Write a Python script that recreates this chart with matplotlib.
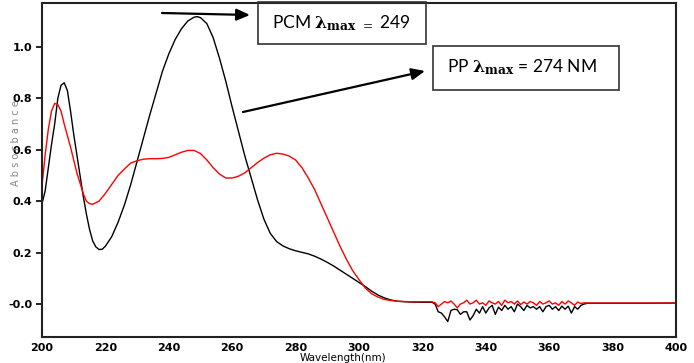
import numpy as np
import matplotlib
matplotlib.use('Agg')
import matplotlib.pyplot as plt
from matplotlib.patches import Rectangle

plt.rcParams['mathtext.fontset'] = 'dejavuserif'

# PCM (black) spectrum, smooth part
pcm_wl = [200, 201, 202, 203, 204, 205, 206, 207, 208, 209, 210, 211, 212, 213, 214, 215,
          216, 217, 218, 219, 220, 222, 224, 226, 228, 230, 232, 234, 236, 238, 240, 242,
          244, 246, 248, 249, 250, 252, 254, 256, 258, 260, 262, 264, 266, 268, 270, 272,
          274, 276, 278, 280, 282, 284, 286, 288, 290, 292, 294, 296, 298, 300, 302, 304,
          306, 308, 310, 312, 316, 320, 323]
pcm_abs = [0.39, 0.44, 0.53, 0.62, 0.70, 0.80, 0.85, 0.86, 0.83, 0.75, 0.66, 0.58, 0.50, 0.42,
           0.35, 0.29, 0.245, 0.222, 0.212, 0.213, 0.225, 0.262, 0.318, 0.385, 0.465, 0.555,
           0.645, 0.735, 0.82, 0.905, 0.972, 1.028, 1.07, 1.10, 1.115, 1.117, 1.113, 1.09,
           1.035, 0.955, 0.865, 0.765, 0.67, 0.575, 0.49, 0.405, 0.33, 0.275, 0.243, 0.226,
           0.215, 0.207, 0.201, 0.195, 0.186, 0.175, 0.162, 0.148, 0.132, 0.116, 0.1, 0.084,
           0.068, 0.05, 0.035, 0.024, 0.016, 0.011, 0.008, 0.007, 0.007]

# PP (red) spectrum, smooth part
pp_wl = [200, 201, 202, 203, 204, 205, 206, 207, 208, 209, 210, 211, 212, 213, 214, 215, 216,
         218, 220, 222, 224, 226, 228, 230, 232, 234, 236, 238, 240, 242, 244, 246, 248, 250,
         252, 254, 256, 258, 260, 262, 264, 266, 268, 270, 272, 274, 276, 278, 280, 282, 284,
         286, 288, 290, 292, 294, 296, 298, 300, 302, 304, 306, 308, 310, 312, 316, 320, 323]
pp_abs = [0.46, 0.58, 0.68, 0.75, 0.78, 0.775, 0.75, 0.70, 0.655, 0.61, 0.56, 0.51, 0.47,
          0.43, 0.40, 0.39, 0.388, 0.40, 0.43, 0.465, 0.50, 0.525, 0.548, 0.557, 0.563,
          0.565, 0.565, 0.566, 0.57, 0.58, 0.59, 0.597, 0.597, 0.585, 0.56, 0.53, 0.505,
          0.49, 0.49, 0.497, 0.51, 0.53, 0.55, 0.567, 0.58, 0.586, 0.583, 0.575, 0.56, 0.53,
          0.49, 0.445, 0.39, 0.335, 0.28, 0.225, 0.175, 0.13, 0.095, 0.062, 0.04, 0.027,
          0.018, 0.014, 0.011, 0.009, 0.009, 0.009]

# noisy stretch 324-371 nm, one reading per nm
noise_wl = np.arange(324, 372)
pcm_noise = [0.0, -0.03, -0.035, -0.05, -0.068, -0.025, -0.02, -0.022, -0.04, -0.03, -0.03,
             -0.062, -0.045, -0.02, -0.035, -0.01, -0.035, -0.015, -0.005, -0.04, -0.012,
             -0.025, -0.005, -0.02, -0.01, -0.03, 0.0, -0.01, -0.025, -0.005, -0.015, -0.01,
             -0.02, -0.01, -0.03, -0.01, -0.005, -0.02, -0.01, -0.025, -0.008, -0.02, -0.008,
             -0.035, -0.01, -0.02, -0.005, 0.0]
pp_noise = [0.005, -0.01, 0.0, 0.01, 0.005, 0.012, 0.0, -0.015, 0.0, 0.005, 0.015, 0.0,
            0.005, 0.015, 0.0, 0.005, -0.005, 0.012, 0.005, 0.0, 0.01, -0.005, 0.015, 0.005,
            0.01, 0.0, 0.012, -0.002, 0.008, 0.0, 0.01, 0.005, -0.005, 0.01, 0.0, 0.005,
            0.012, 0.0, 0.005, -0.005, 0.01, 0.0, 0.012, 0.005, -0.005, 0.008, 0.002, 0.005]

# flat tail
tail_wl = [372, 380, 390, 400]
pcm_tail = [0.003, 0.003, 0.003, 0.004]
pp_tail = [0.004, 0.004, 0.004, 0.004]

yticks = [0.0, 0.2, 0.4, 0.6, 0.8, 1.0]
ytick_labels = ['-0.0', '0.2', '0.4', '0.6', '0.8', '1.0']
xticks = [200, 220, 240, 260, 280, 300, 320, 340, 360, 380, 400]

fig = plt.figure(figsize=(6.94, 3.63), dpi=100)
ax = fig.add_axes([42 / 694, 26 / 363, 634 / 694, 334 / 363])

ax.plot(np.concatenate([pcm_wl, noise_wl, tail_wl]),
        np.concatenate([pcm_abs, pcm_noise, pcm_tail]), color='black', lw=1.0)
ax.plot(np.concatenate([pp_wl, noise_wl, tail_wl]),
        np.concatenate([pp_abs, pp_noise, pp_tail]), color='red', lw=1.0)

ax.set_xlim(200, 400)
ax.set_ylim(-0.128, 1.17)
ax.set_xticks(xticks)
ax.set_yticks(yticks)
ax.set_yticklabels(ytick_labels)
for sp in ax.spines.values():
    sp.set_linewidth(1.5)
    sp.set_color('#222222')
ax.tick_params(axis='x', length=0, pad=4, labelsize=8)
ax.tick_params(axis='y', length=4, width=1.2, pad=3, labelsize=8)
for lab in ax.get_xticklabels() + ax.get_yticklabels():
    lab.set_fontweight('bold')

fig.text(343 / 694, 1 - 358 / 363, 'Wavelength(nm)', ha='center', va='center', fontsize=7.5)
fig.text(16 / 694, 1 - 143 / 363, 'A b s o r b a n c e', rotation=90, ha='center',
         va='center', fontsize=7, color='#888888')

# annotation boxes
for x0, y0, x1, y1 in [(258, 2, 426, 44), (433, 46, 619, 90)]:
    fig.patches.append(Rectangle((x0 / 694, 1 - y1 / 363), (x1 - x0) / 694, (y1 - y0) / 363,
                                 transform=fig.transFigure, fill=False,
                                 edgecolor='#333333', lw=1.2))
fig.text(272 / 694, 1 - 23 / 363, r'PCM $\mathbf{\lambda}_{\mathbf{max}}$ $_{=}$ 249',
         family='Lato', fontsize=12.5, va='center')
fig.text(447 / 694, 1 - 67 / 363, r'PP $\mathbf{\lambda}_{\mathbf{max}}$ = 274 NM',
         family='Lato', fontsize=12.5, va='center')

arrow = dict(arrowstyle='-|>,head_length=0.8,head_width=0.35', color='black', lw=1.6,
             shrinkA=0, shrinkB=0)
ax.annotate('', xy=(250 / 694, 1 - 15 / 363), xytext=(162 / 694, 1 - 13 / 363),
            xycoords='figure fraction', textcoords='figure fraction', arrowprops=arrow)
ax.annotate('', xy=(425 / 694, 1 - 71 / 363), xytext=(243 / 694, 1 - 112 / 363),
            xycoords='figure fraction', textcoords='figure fraction', arrowprops=arrow)

plt.savefig('out.png', dpi=100)
